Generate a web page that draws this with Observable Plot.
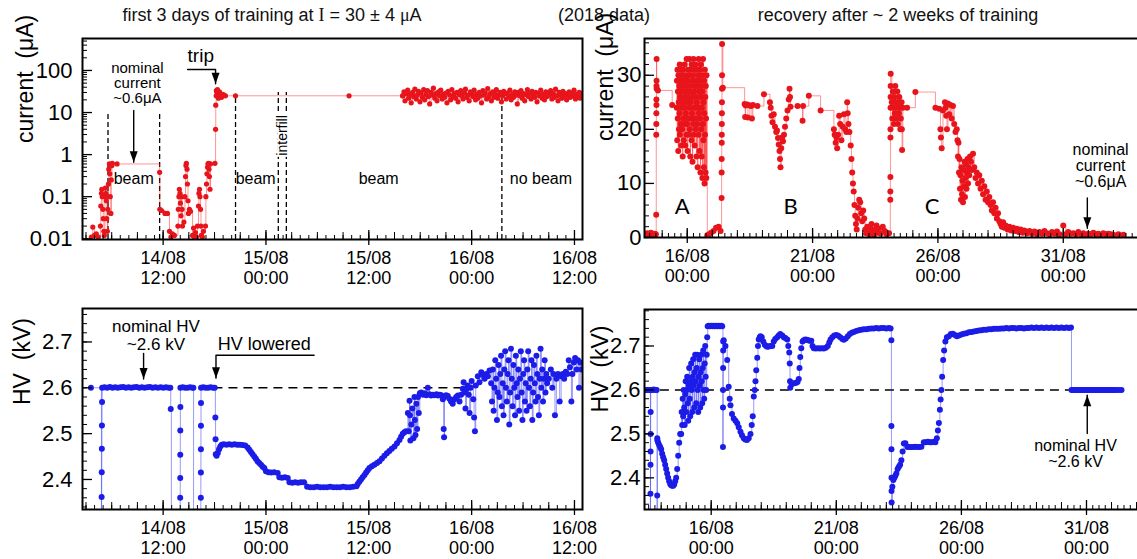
<!DOCTYPE html>
<html><head><meta charset="utf-8">
<script src="https://cdn.jsdelivr.net/npm/d3@7"></script>
<script src="https://cdn.jsdelivr.net/npm/@observablehq/plot@0.6"></script>
<style>
html,body{margin:0;padding:0;background:#fff;overflow:hidden;}
#fig{position:relative;width:1137px;height:559px;overflow:hidden;font-family:"Liberation Sans",Arial,sans-serif;background:#fff;}
.panel{position:absolute;}
.title{position:absolute;font-size:18px;white-space:nowrap;transform:translateX(-50%);color:#111;}
.serif{font-family:"Liberation Serif","DejaVu Serif",serif;}
</style></head><body>
<div id="fig">
<div class="title" style="left:272px;top:5px">first 3 days of training at <span class="serif">I</span> = 30 ± 4 <span class="serif">μ</span>A</div>
<div class="title" style="left:604px;top:5px">(2018 data)</div>
<div class="title" style="left:898px;top:5px">recovery after ~ 2 weeks of training</div>
</div>
<script>
// ---------- DATA (x = day of August 2018, fractional) ----------
// Top-left: current (µA), first 3 days
const tlData = [[14.151,0.011],[14.158,0.019],[14.166,0.012],[14.175,0.013],[14.185,0.011],[14.195,0.02],[14.197,0.06],[14.200,0.12],[14.202,0.15],[14.204,0.1],[14.207,0.05],[14.209,0.03],[14.212,0.015],[14.214,0.012],[14.217,0.1],[14.219,0.16],[14.222,0.12],[14.224,0.08],[14.226,0.03],[14.229,0.015],[14.231,0.05],[14.234,0.2],[14.236,0.45],[14.239,0.6],[14.241,0.35],[14.243,0.1],[14.246,0.04],[14.248,0.25],[14.251,0.55],[14.253,0.62],[14.276,0.6],[14.483,0.38],[14.484,0.05],[14.492,0.047],[14.509,0.04],[14.521,0.04],[14.531,0.015],[14.538,0.011],[14.545,0.013],[14.555,0.012],[14.572,0.02],[14.574,0.05],[14.577,0.1],[14.579,0.15],[14.582,0.12],[14.584,0.07],[14.587,0.035],[14.589,0.1],[14.592,0.05],[14.594,0.02],[14.601,0.025],[14.606,0.1],[14.609,0.3],[14.611,0.55],[14.613,0.62],[14.616,0.45],[14.618,0.2],[14.621,0.08],[14.623,0.04],[14.628,0.05],[14.633,0.045],[14.643,0.012],[14.648,0.018],[14.652,0.011],[14.657,0.014],[14.662,0.011],[14.667,0.02],[14.672,0.06],[14.674,0.12],[14.677,0.15],[14.679,0.1],[14.682,0.05],[14.684,0.02],[14.686,0.012],[14.691,0.011],[14.696,0.015],[14.706,0.02],[14.708,0.1],[14.711,0.2],[14.713,0.35],[14.716,0.5],[14.718,0.6],[14.721,0.62],[14.723,0.45],[14.725,0.3],[14.728,0.15],[14.730,0.6],[14.752,0.62],[14.755,4],[14.756,15],[14.758,25],[14.759,33],[14.762,30],[14.764,35],[14.767,27],[14.769,22],[14.772,28],[14.774,31],[14.779,25],[14.784,23],[14.789,27],[14.796,26],[14.803,25],[14.852,25],[15.404,25],[15.664,25],
[15.665,25],[15.671,31],[15.676,19],[15.683,28],[15.689,34],[15.694,22],[15.701,27],[15.706,17],[15.713,30],[15.718,24],[15.724,36],[15.731,21],[15.736,26],[15.742,32],[15.749,18],[15.754,29],[15.760,23],[15.767,35],[15.772,20],[15.778,27],[15.785,33],[15.790,24],[15.796,16],[15.803,30],[15.808,26],[15.814,38],[15.821,22],[15.826,28],[15.832,19],[15.839,31],[15.844,25],[15.850,34],[15.857,21],[15.862,27],[15.868,23],[15.875,29],[15.880,17],[15.886,32],[15.893,26],[15.898,20],[15.904,35],[15.911,24],[15.916,28],[15.922,22],[15.929,30],[15.934,18],[15.940,27],[15.947,33],[15.952,25],[15.958,21],[15.965,29],[15.970,36],[15.976,23],[15.983,26],[15.988,19],[15.994,31],[16.001,28],[16.006,24],[16.012,34],[16.019,20],[16.024,27],[16.030,22],[16.037,30],[16.042,25],[16.048,17],[16.055,33],[16.060,26],[16.066,29],[16.073,21],[16.078,37],[16.084,24],[16.091,28],[16.096,19],[16.102,31],[16.109,23],[16.114,27],[16.120,35],[16.127,22],[16.132,26],[16.138,30],[16.145,18],[16.150,25],[16.156,32],[16.163,28],[16.168,21],[16.174,29],[16.181,24],[16.186,34],[16.192,20],[16.199,27],[16.204,23],[16.210,31],[16.217,26],[16.222,16],[16.228,30],[16.235,25],[16.240,33],[16.246,22],[16.253,28],[16.258,19],[16.264,27],[16.271,35],[16.276,24],[16.282,29],[16.289,21],[16.294,32],[16.300,26],[16.307,23],[16.312,30],[16.318,18],[16.325,28],[16.330,25],[16.336,34],[16.343,22],[16.348,27],[16.354,20],[16.361,31],[16.366,24],[16.372,29],[16.379,26],[16.384,33],[16.390,21],[16.397,28],[16.402,23],[16.408,36],[16.415,25],[16.420,19],[16.426,30],[16.433,27],[16.438,22],[16.444,32],[16.451,24],[16.456,28],[16.462,20],[16.469,26],[16.474,31],[16.480,23],[16.487,29],[16.492,25],[16.498,34],[16.505,21],[16.510,27],[16.516,24],[16.523,30],[16.528,22],[16.534,28]];

// Top-right: current (µA), recovery — before cloud A
const trPre = [[14.33,0.5],[14.40,0.8],[14.47,0.4],[14.55,0.9],[14.62,0.5],[14.70,0.7],[14.75,0.6],[14.762,4.2],[14.764,19],[14.766,21],[14.768,23],[14.770,25.5],[14.772,24.5],[14.774,28],[14.776,29],[14.778,33],[14.780,27.5],[14.83,27.2],[15.40,24.5]];
// cloud "A" sample times and currents
const trCloudDays = [15.582,15.588,15.601,15.610,15.621,15.629,15.641,15.647,15.660,15.669,15.680,15.688,15.700,15.706,15.719,15.728,15.739,15.747,15.759,15.765,15.778,15.787,15.798,15.806,15.818,15.824,15.837,15.846,15.857,15.865,15.877,15.883,15.896,15.905,15.916,15.924,15.936,15.942,15.955,15.964,15.975,15.983,15.995,16.001,16.014,16.023,16.034,16.042,16.054,16.060,16.073,16.082,16.093,16.101,16.113,16.119,16.132,16.141,16.152,16.160,16.172,16.178,16.191,16.200,16.211,16.219,16.231,16.237,16.250,16.259,16.270,16.278,16.290,16.296,16.309,16.318,16.329,16.337,16.349,16.355,16.368,16.377,16.388,16.396,16.408,16.414,16.427,16.436,16.447,16.455,16.467,16.473,16.486,16.495,16.506,16.514,16.526,16.532,16.545,16.554,16.565,16.573,16.585,16.591,16.604,16.613,16.624,16.632,16.644,16.650,16.663,16.672,16.683,16.691,16.703,16.709,16.722,16.731,16.742,16.750,16.762,16.768];
const trCloudCur = [24,29,18,31,22,27,16,30,25,20,28,23,32,19,26,29,21,31,17,27,24,30,20,28,15,25,31,22,27,18,29,24,32,21,26,17,30,23,28,19,33,25,21,29,16,27,31,22,26,19,30,24,33,20,28,15,25,31,22,27,18,32,23,29,14,26,30,21,33,19,27,24,31,17,28,22,32,20,26,29,15,25,31,21,28,13,24,30,19,33,23,27,16,29,22,31,12,26,32,20,28,15,24,30,11,27,21,33,18,25,13,29,23,10,31,19,26,12,28,22,11,30];
// after cloud A
const trPost = [[16.80,0.4],[16.87,0.6],[16.95,0.9],[17.05,1.2],[17.15,1.8],[17.25,2.0],[17.33,1.2],[17.370,7.3],[17.372,12],[17.374,14.5],[17.376,17.5],[17.378,19],[17.380,21],[17.382,23],[17.384,25],[17.386,27.5],[17.388,30],[17.390,35.8],[17.42,27.7],[18.29,24.7],[18.31,22.3],[18.33,24.4],[18.40,24.6],[18.42,22.2],[18.50,24.4],[18.55,24.3],[18.58,22.0],[18.62,24.5],[18.80,24.3],[19.06,26.5],[19.30,25.0],[19.33,24.0],[19.36,22.5],[19.40,21.3],[19.45,22.8],[19.50,20.5],[19.55,19.5],[19.58,19.8],[19.62,18.4],[19.65,17.2],[19.68,16.0],[19.70,14.5],[19.72,13.0],[19.75,16.5],[19.78,18.5],[19.82,17.8],[19.86,19.0],[19.90,20.5],[19.95,22.0],[20.00,23.5],[20.05,25.5],[20.08,27.5],[20.10,26.0],[20.12,24.2],[20.40,24.3],[20.60,21.6],[20.62,24.3],[20.85,26.2],[21.32,23.5],[21.85,20.0],[21.88,19.0],[21.92,17.5],[21.95,18.5],[21.98,16.5],[22.02,19.0],[22.06,22.5],[22.10,21.0],[22.15,18.0],[22.20,20.5],[22.25,22.8],[22.30,20.0],[22.35,19.5],[22.38,25.0],[22.40,23.0],[22.43,21.0],[22.47,19.5],[22.52,17.0],[22.55,14.5],[22.58,12.0],[22.61,10.0],[22.64,8.5],[22.67,6.0],[22.70,4.0],[22.73,2.5],[22.76,1.5],[22.79,3.5],[22.82,5.5],[22.86,7.0],[22.90,6.5],[22.94,4.5],[22.98,3.0],[23.02,5.0],[23.06,3.5],[23.10,1.5],[23.14,0.8],[23.18,2.0],[23.22,1.2],[23.26,0.6],[23.30,1.8],[23.35,2.5],[23.40,1.0],[23.45,0.5],[23.50,1.5],[23.55,2.2],[23.60,0.9],[23.65,1.6],[23.72,0.7],[23.80,2.0],[23.88,1.2],[23.95,0.6],[24.05,0.8],[24.100,7.0],[24.102,8.5],[24.104,11.2],[24.106,18.5],[24.108,20],[24.110,24],[24.112,26],[24.114,28],[24.116,30.3],[24.16,25],[24.18,22],[24.20,27],[24.22,24],[24.24,21],[24.26,26],[24.28,23],[24.30,28],[24.32,25],[24.34,22],[24.36,24],[24.38,27],[24.40,21],[24.42,25],[24.44,23],[24.46,26],[24.48,24],[24.50,20],[24.52,22],[24.55,25],[24.56,20],[24.57,16.2],[24.60,24.0],[24.77,24.0],[25.10,26.9],[25.90,24.0],[26.05,23.8],[26.10,20.0],[26.12,18.5],[26.15,16.5],[26.20,23.5],[26.28,25.0],[26.30,24.0],[26.33,22.5],[26.36,20.0],[26.40,24.8],[26.45,22.8],[26.50,24.5],[26.55,22.0],[26.60,24.3],[26.65,21.0],[26.70,19.5],[26.75,20.0],[26.78,18.0],[26.80,15.0],[26.82,17.5],[26.84,12.0],[26.86,14.5],[26.88,9.0],[26.90,11.5],[26.92,7.0],[26.94,13.0],[26.96,8.0],[26.98,10.5],[27.00,6.5],[27.02,12.5],[27.04,9.5],[27.06,14.0],[27.08,7.5],[27.10,11.0],[27.12,13.5],[27.14,9.0],[27.16,12.0],[27.18,14.5],[27.20,10.0],[27.22,13.0],[27.25,11.5],[27.28,15.0],[27.32,14.0],[27.36,12.5],[27.40,15.5],[27.45,13.0],[27.50,11.0],[27.55,12.0],[27.60,10.0],[27.65,11.5],[27.70,9.0],[27.75,10.5],[27.80,8.0],[27.85,9.5],[27.90,7.0],[27.95,8.5],[28.00,6.5],[28.05,7.5],[28.10,6.0],[28.15,5.0],[28.20,6.5],[28.25,4.5],[28.30,5.5],[28.35,3.5],[28.40,4.5],[28.45,3.0],[28.50,2.5],[28.55,2.0],[28.60,2.8],[28.65,1.8],[28.70,2.2],[28.78,1.5],[28.85,2.0],[28.92,1.3],[29.00,1.8],[29.08,1.2],[29.15,1.6],[29.22,1.0],[29.30,1.5],[29.38,0.9],[29.45,1.3],[29.55,0.8],[29.65,1.2],[29.75,0.7],[29.85,1.1],[29.95,0.6],[30.05,1.0],[30.15,0.7],[30.25,1.2],[30.35,0.8],[30.45,0.6],[30.55,1.0],[30.65,0.7],[30.75,1.1],[30.85,0.6],[31.00,2.2],[31.10,0.6],[31.20,1.0],[31.30,0.7],[31.40,0.8],[31.50,0.6],[31.60,1.0],[31.70,0.6],[31.80,0.8],[31.90,0.5],[32.00,0.7],[32.10,0.6],[32.20,0.9],[32.30,0.6],[32.40,0.7],[32.50,0.5],[32.60,0.8],[32.70,0.6],[32.80,0.7],[32.90,0.6],[33.00,0.5],[33.20,0.6],[33.40,0.5]];

// Bottom-left: HV (kV), first 3 days (2.30 = tripped, off scale)
const blData = [[14.149,2.600],[14.200,2.30],[14.201,2.362],[14.2015,2.416],[14.202,2.467],[14.2025,2.518],[14.203,2.569],[14.2035,2.600],[14.215,2.601],[14.228,2.600],[14.241,2.602],[14.254,2.600],[14.267,2.601],[14.280,2.600],[14.293,2.601],[14.306,2.602],[14.319,2.600],[14.332,2.601],[14.345,2.600],[14.358,2.601],[14.371,2.602],[14.384,2.600],[14.397,2.601],[14.410,2.600],[14.423,2.601],[14.436,2.602],[14.449,2.600],[14.462,2.601],[14.475,2.600],[14.488,2.601],[14.501,2.600],[14.514,2.601],[14.527,2.600],[14.535,2.600],[14.537,2.554],[14.540,2.30],[14.583,2.36],[14.5832,2.403],[14.5834,2.454],[14.5836,2.507],[14.5838,2.558],[14.584,2.600],[14.595,2.601],[14.607,2.600],[14.619,2.600],[14.631,2.601],[14.643,2.600],[14.647,2.600],[14.648,2.30],[14.6833,2.36],[14.6835,2.415],[14.6837,2.466],[14.6839,2.517],[14.6841,2.567],[14.6843,2.600],[14.695,2.601],[14.707,2.600],[14.719,2.600],[14.731,2.601],[14.743,2.600],[14.751,2.600],[14.754,2.535],[14.755,2.488],[14.756,2.455],[14.760,2.452],[14.766,2.458],[14.772,2.466],[14.778,2.472],[14.785,2.476],[14.795,2.477],[14.808,2.476],[14.821,2.477],[14.834,2.476],[14.847,2.477],[14.860,2.476],[14.873,2.476],[14.886,2.475],[14.899,2.474],[14.911,2.470],[14.919,2.465],[14.927,2.460],[14.935,2.455],[14.943,2.450],[14.951,2.445],[14.959,2.440],[14.967,2.436],[14.976,2.432],[14.984,2.428],[14.992,2.425],[15.000,2.418],[15.012,2.416],[15.025,2.415],[15.040,2.416],[15.057,2.414],[15.065,2.405],[15.078,2.404],[15.092,2.405],[15.106,2.403],[15.114,2.394],[15.128,2.393],[15.142,2.394],[15.156,2.393],[15.170,2.394],[15.185,2.394],[15.200,2.384],[15.216,2.383],[15.232,2.383],[15.248,2.384],[15.264,2.383],[15.280,2.383],[15.296,2.383],[15.312,2.384],[15.328,2.383],[15.344,2.383],[15.360,2.383],[15.376,2.384],[15.392,2.383],[15.408,2.383],[15.424,2.384],[15.440,2.385],[15.446,2.390],[15.454,2.395],[15.462,2.400],[15.470,2.405],[15.479,2.410],[15.487,2.415],[15.495,2.420],[15.503,2.425],[15.515,2.429],[15.527,2.432],[15.540,2.436],[15.552,2.440],[15.564,2.446],[15.576,2.452],[15.588,2.457],[15.600,2.462],[15.612,2.467],[15.625,2.472],[15.637,2.479],[15.649,2.486],[15.657,2.493],[15.665,2.500],[15.673,2.503],[15.681,2.505],
[15.690,2.545],[15.694,2.505],[15.698,2.572],[15.700,2.54],[15.702,2.485],[15.707,2.52],[15.712,2.555],[15.717,2.49],[15.722,2.58],[15.724,2.53],[15.727,2.497],[15.731,2.565],[15.735,2.51],[15.739,2.58],[15.743,2.545],[15.748,2.588],[15.755,2.59],[15.764,2.585],[15.772,2.588],[15.780,2.584],[15.787,2.600],[15.795,2.586],[15.803,2.583],[15.812,2.585],[15.820,2.584],[15.829,2.586],[15.837,2.583],[15.845,2.585],[15.853,2.584],[15.860,2.575],[15.864,2.510],[15.866,2.492],[15.868,2.58],[15.876,2.584],[15.884,2.582],[15.892,2.576],[15.900,2.570],[15.908,2.565],[15.916,2.575],[15.925,2.580],[15.933,2.583],[15.941,2.57],[15.949,2.585],[15.957,2.598],[15.961,2.612],[15.965,2.590],[15.970,2.555],[15.975,2.597],[15.981,2.605],[15.986,2.585],[15.990,2.545],[15.995,2.600],[16.000,2.615],[16.008,2.575],[16.012,2.535],[16.016,2.505],[16.020,2.605],[16.030,2.625],[16.038,2.612],[16.047,2.634],[16.055,2.628],[16.063,2.62],[16.071,2.630],[16.079,2.625],[16.087,2.638],
[16.095,2.61],[16.099,2.57],[16.103,2.64],[16.107,2.55],[16.111,2.60],[16.115,2.66],[16.119,2.62],[16.123,2.53],[16.127,2.59],[16.131,2.65],[16.135,2.58],[16.139,2.63],[16.143,2.67],[16.147,2.56],[16.151,2.61],[16.155,2.54],[16.159,2.64],[16.163,2.68],[16.167,2.60],[16.171,2.57],[16.175,2.63],[16.179,2.66],[16.183,2.52],[16.187,2.59],[16.191,2.685],[16.195,2.62],[16.199,2.56],[16.203,2.65],[16.207,2.60],[16.211,2.54],[16.215,2.67],[16.219,2.61],[16.223,2.58],[16.227,2.64],[16.231,2.55],[16.235,2.62],[16.239,2.68],[16.243,2.59],[16.247,2.53],[16.251,2.63],[16.255,2.66],[16.259,2.57],[16.263,2.61],[16.267,2.55],[16.271,2.64],[16.275,2.68],[16.279,2.60],[16.283,2.56],[16.287,2.62],[16.291,2.66],[16.295,2.53],[16.299,2.59],[16.303,2.65],[16.307,2.61],[16.311,2.57],[16.315,2.67],[16.319,2.63],[16.323,2.58],[16.327,2.54],[16.331,2.62],[16.335,2.685],[16.339,2.60],[16.343,2.64],[16.347,2.57],[16.351,2.62],[16.355,2.66],[16.359,2.59],[16.363,2.63],[16.367,2.61],
[16.375,2.62],[16.385,2.64],[16.392,2.60],[16.398,2.63],[16.405,2.54],[16.412,2.62],[16.420,2.63],[16.428,2.57],[16.435,2.625],[16.443,2.63],[16.450,2.62],[16.458,2.635],[16.465,2.63],[16.472,2.66],[16.478,2.645],[16.485,2.57],[16.490,2.63],[16.497,2.655],[16.503,2.665],[16.510,2.64],[16.517,2.66],[16.522,2.60],[16.528,2.655],[16.534,2.64]];

// Bottom-right: HV (kV), recovery
const brData = [[13.374,2.600],[13.42,2.600],[13.47,2.600],[13.50,2.600],[13.54,2.600],[13.570,2.30],[13.572,2.364],[13.574,2.43],[13.576,2.46],[13.578,2.50],[13.580,2.55],[13.582,2.600],[13.64,2.600],[13.70,2.601],[13.76,2.600],[13.82,2.600],[13.840,2.30],[13.842,2.36],[13.844,2.49],[13.85,2.485],[13.88,2.48],[13.92,2.475],[13.96,2.47],[14.00,2.465],[14.04,2.455],[14.08,2.447],[14.12,2.44],[14.16,2.43],[14.20,2.42],[14.24,2.41],[14.28,2.40],[14.32,2.392],[14.36,2.386],[14.40,2.383],[14.44,2.382],[14.48,2.382],[14.52,2.385],[14.56,2.392],[14.60,2.40],[14.64,2.42],[14.68,2.45],[14.72,2.48],[14.76,2.50],
[14.80,2.50],[14.82,2.55],[14.84,2.52],[14.86,2.58],[14.88,2.54],[14.90,2.60],[14.92,2.56],[14.94,2.52],[14.96,2.59],[14.98,2.62],[15.00,2.55],[15.02,2.60],[15.04,2.63],[15.06,2.57],[15.08,2.53],[15.10,2.61],[15.12,2.65],[15.14,2.58],[15.16,2.54],[15.18,2.62],[15.20,2.66],[15.22,2.60],[15.24,2.55],[15.26,2.63],[15.28,2.67],[15.30,2.61],[15.32,2.56],[15.34,2.64],[15.36,2.68],[15.38,2.62],[15.40,2.57],[15.42,2.65],[15.44,2.68],[15.46,2.60],[15.48,2.55],[15.50,2.63],[15.52,2.67],[15.54,2.61],[15.56,2.56],[15.58,2.64],[15.60,2.68],[15.62,2.62],[15.64,2.57],[15.66,2.65],[15.68,2.69],[15.70,2.60],[15.72,2.58],[15.74,2.66],[15.76,2.70],[15.78,2.63],[15.80,2.60],[15.82,2.68],[15.84,2.72],
[15.86,2.745],[15.90,2.746],[15.95,2.745],[16.00,2.746],[16.05,2.745],[16.10,2.746],[16.15,2.745],[16.20,2.746],[16.25,2.745],[16.30,2.746],[16.35,2.745],[16.40,2.746],[16.44,2.745],[16.470,2.47],[16.472,2.56],[16.474,2.60],[16.476,2.65],[16.478,2.69],[16.480,2.71],[16.50,2.713],[16.57,2.70],[16.64,2.668],[16.70,2.607],[16.74,2.58],[16.77,2.565],[16.83,2.545],[16.90,2.535],[16.97,2.53],[17.04,2.524],[17.10,2.515],[17.17,2.505],[17.23,2.497],[17.30,2.49],[17.36,2.487],[17.43,2.486],[17.50,2.49],[17.57,2.50],[17.62,2.52],[17.66,2.54],[17.70,2.585],[17.74,2.60],[17.77,2.62],[17.80,2.645],[17.84,2.673],[17.87,2.70],[17.90,2.715],[17.94,2.72],[17.97,2.722],[18.02,2.72],[18.08,2.71],[18.14,2.703],[18.20,2.70],[18.24,2.698],[18.30,2.699],[18.36,2.70],[18.44,2.70],[18.50,2.71],[18.56,2.716],[18.64,2.72],[18.70,2.724],[18.76,2.727],[18.84,2.724],[18.90,2.72],[18.96,2.718],[19.04,2.715],[19.08,2.70],[19.12,2.685],[19.14,2.66],[19.15,2.62],[19.16,2.605],[19.22,2.613],[19.30,2.615],[19.38,2.616],[19.45,2.618],[19.50,2.625],[19.53,2.65],[19.56,2.675],[19.60,2.695],[19.65,2.71],[19.70,2.713],[19.76,2.715],[19.82,2.714],[19.88,2.713],[19.94,2.712],[20.00,2.712],[20.05,2.70],[20.10,2.695],[20.18,2.694],[20.26,2.695],[20.34,2.694],[20.42,2.695],[20.50,2.694],[20.58,2.696],[20.66,2.70],[20.72,2.708],[20.77,2.715],[20.84,2.72],[20.92,2.724],[21.00,2.725],[21.08,2.723],[21.16,2.72],[21.24,2.716],[21.30,2.714],[21.38,2.717],[21.46,2.722],[21.54,2.727],[21.62,2.73],[21.70,2.732],[21.80,2.734],[21.90,2.736],[22.00,2.737],[22.10,2.738],[22.20,2.738],[22.30,2.739],[22.40,2.74],[22.50,2.74],[22.60,2.741],[22.70,2.74],[22.80,2.741],[22.90,2.741],[23.00,2.74],[23.10,2.741],[23.17,2.74],[23.20,2.713],[23.202,2.518],[23.204,2.465],[23.206,2.40],[23.208,2.37],[23.21,2.344],[23.24,2.38],[23.28,2.395],[23.32,2.40],[23.36,2.405],[23.40,2.41],[23.45,2.42],[23.50,2.425],[23.55,2.43],[23.60,2.44],[23.65,2.46],[23.70,2.478],[23.76,2.479],[23.84,2.47],[23.92,2.47],[24.00,2.47],[24.08,2.47],[24.16,2.471],[24.24,2.47],[24.32,2.47],[24.40,2.471],[24.50,2.481],[24.58,2.481],[24.66,2.482],[24.74,2.481],[24.82,2.481],[24.90,2.482],[24.96,2.481],[25.02,2.49],[25.06,2.508],[25.10,2.525],[25.14,2.555],[25.17,2.578],[25.20,2.600],[25.23,2.63],[25.27,2.668],[25.31,2.69],[25.36,2.71],[25.42,2.72],[25.50,2.722],[25.58,2.727],[25.66,2.728],[25.74,2.725],[25.82,2.722],[25.90,2.724],[26.00,2.726],[26.10,2.728],[26.20,2.729],[26.30,2.731],[26.40,2.732],[26.50,2.733],[26.60,2.734],[26.70,2.735],[26.80,2.736],[26.90,2.737],[27.00,2.737],[27.10,2.738],[27.20,2.738],[27.30,2.739],[27.40,2.739],[27.50,2.739],[27.60,2.74],[27.70,2.74],[27.80,2.741],[27.90,2.74],[28.00,2.741],[28.10,2.741],[28.20,2.74],[28.30,2.741],[28.40,2.741],[28.50,2.74],[28.60,2.741],[28.70,2.741],[28.80,2.742],[28.90,2.741],[29.00,2.742],[29.10,2.741],[29.20,2.742],[29.30,2.741],[29.40,2.742],[29.50,2.741],[29.60,2.742],[29.70,2.741],[29.80,2.742],[29.90,2.741],[30.00,2.742],[30.10,2.741],[30.20,2.742],[30.30,2.741],[30.38,2.742],[30.40,2.600],[30.46,2.600],[30.52,2.600],[30.58,2.600],[30.64,2.600],[30.70,2.600],[30.76,2.600],[30.82,2.600],[30.88,2.600],[30.94,2.600],[31.00,2.600],[31.06,2.600],[31.12,2.600],[31.18,2.600],[31.24,2.600],[31.30,2.600],[31.36,2.600],[31.42,2.600],[31.48,2.600],[31.54,2.600],[31.60,2.600],[31.66,2.600],[31.72,2.600],[31.78,2.600],[31.84,2.600],[31.90,2.600],[31.96,2.600],[32.02,2.600],[32.08,2.600],[32.14,2.600],[32.20,2.600],[32.30,2.600],[32.40,2.600]];

// ---------- TICKS & LABELS ----------
const tlXTicks = [14.5, 15, 15.5, 16, 16.5];
const tlXLabels = ["14/08\n12:00", "15/08\n00:00", "15/08\n12:00", "16/08\n00:00", "16/08\n12:00"];
const trXTicks = [16, 21, 26, 31];
const trXLabels = ["16/08\n00:00", "21/08\n00:00", "26/08\n00:00", "31/08\n00:00"];
const logTicks = [0.01, 0.1, 1, 10, 100];
const logLabels = ["0.01", "0.1", "1", "10", "100"];
const curTicks = [0, 10, 20, 30];
const curLabels = ["0", "10", "20", "30"];
const hvTicks = [2.4, 2.5, 2.6, 2.7];
const hvLabels = ["2.4", "2.5", "2.6", "2.7"];

// ---------- ANNOTATIONS ----------
const tlDashes = [[14.232, 10], [14.483, 10], [14.852, 24], [15.060, 30], [15.099, 30], [16.147, 22]];
const tlNotes = [{x: 14.357, y: 0.26, t: "beam"}, {x: 14.95, y: 0.26, t: "beam"}, {x: 15.548, y: 0.26, t: "beam"}, {x: 16.337, y: 0.26, t: "no beam"}];
const tlNominal = {x: 14.375, y: 49, t: "nominal\ncurrent\n~0.6μA"};
const tlTrip = {x: 14.683, y: 227, t: "trip"};
const tlInterfill = {x: 15.082, y: 2.86, t: "interfill"};
const tlArrows = [[[14.357, 11.2], [14.357, 0.66]], [[14.619, 105], [14.755, 105], [14.755, 48]]];
const tlTips = [[14.357, 0.66], [14.755, 48]];
const trLetters = [{x: 15.80, y: 5.66, t: "A"}, {x: 20.12, y: 5.66, t: "B"}, {x: 25.77, y: 5.66, t: "C"}];
const trNominal = {x: 32.49, y: 13.2, t: "nominal\ncurrent\n~0.6μA"};
const trArrows = [[[31.96, 7.3], [31.96, 1.7]]];
const trTips = [[31.96, 1.7]];
const blNominal = {x: 14.465, y: 2.714, t: "nominal HV\n~2.6 kV"};
const blLowered = {x: 14.765, y: 2.695, t: "HV lowered"};
const blArrows = [[[14.405, 2.675], [14.405, 2.619]], [[15.234, 2.671], [14.757, 2.671], [14.757, 2.621]]];
const blTips = [[14.405, 2.619], [14.757, 2.621]];
const blDash = [{y: 2.6, x1: 14.747, x2: 15.949}];
const brNominal = {x: 30.56, y: 2.455, t: "nominal HV\n~2.6 kV"};
const brArrows = [[[31.03, 2.501], [31.03, 2.588]]];
const brTips = [[31.03, 2.588]];
const brDash = [{y: 2.6, x1: 13.37, x2: 30.38}];

// ---------- HELPERS ----------
const trData = [...trPre, ...trCloudDays.map((d, i) => [d, trCloudCur[i]]), ...trPost];
const FONT = '"Liberation Sans", Arial, sans-serif';
const triDown = {draw(c) { c.moveTo(0, 0); c.lineTo(-4, -11); c.lineTo(4, -11); c.closePath(); }};
const triUp = {draw(c) { c.moveTo(0, 0); c.lineTo(-4, 11); c.lineTo(4, 11); c.closePath(); }};
function steps(a, b, s) { const o = []; const n = Math.round((b - a) / s); for (let i = 0; i <= n; i++) o.push(+(a + i * s).toFixed(6)); return o; }
function inDom(arr, dom) { return arr.filter(v => v >= Math.min(...dom) && v <= Math.max(...dom)); }
function logMinor(dom) { const o = []; for (let e = -3; e <= 3; e++) for (let k = 2; k <= 9; k++) o.push(k * Math.pow(10, e)); return inDom(o, dom); }
function arrowMarks(lines, tips, sym) {
  const pts = lines.flatMap((l, k) => l.map(p => ({x: p[0], y: p[1], k})));
  return [
    Plot.line(pts, {x: "x", y: "y", z: "k", stroke: "black", strokeWidth: 1.4}),
    Plot.dot(tips, {x: d => d[0], y: d => d[1], symbol: sym, r: 4, fill: "black", stroke: "none"})
  ];
}

function panel(cfg) {
  const fw = cfg.width - cfg.ml - cfg.mr, fh = cfg.height - cfg.mt - cfg.mb;
  const X = d => d[0], Y = d => d[1];
  const marks = [
    ...(cfg.under || []),
    Plot.line(cfg.data, {x: X, y: Y, curve: "step-after", stroke: cfg.lineColor, strokeWidth: 0.8, strokeOpacity: 0.6, clip: true}),
    Plot.dot(cfg.data, {x: X, y: Y, r: cfg.r, fill: cfg.color, stroke: "none", clip: true}),
    Plot.ruleX(inDom(cfg.xMinor, cfg.xDomain), {x: d => d, insetTop: fh - 4, stroke: "black", strokeWidth: 1}),
    Plot.ruleX(inDom(cfg.xMid, cfg.xDomain), {x: d => d, insetTop: fh - 7, stroke: "black", strokeWidth: 1}),
    Plot.ruleX(cfg.xTicks, {x: d => d, insetTop: fh - 9, insetBottom: -6, stroke: "black", strokeWidth: 1.3}),
    Plot.ruleY(cfg.yMinor, {y: d => d, insetRight: fw - 5, stroke: "black", strokeWidth: 1}),
    Plot.ruleY(cfg.yTicks, {y: d => d, insetRight: fw - 10, stroke: "black", strokeWidth: 1.3}),
    Plot.text(cfg.xTicks, {x: d => d, text: (d, i) => cfg.xLabels[i], frameAnchor: "bottom", lineAnchor: "top", dy: 10, fontSize: 18, lineHeight: 1.12}),
    Plot.text(cfg.yTicks, {y: d => d, text: (d, i) => cfg.yLabels[i], frameAnchor: "left", textAnchor: "end", dx: cfg.ydx, fontSize: 22}),
    Plot.text([cfg.yTitle], {text: d => d, frameAnchor: "left", rotate: -90, dx: cfg.tdx, dy: cfg.tdy || 0, fontSize: 23}),
    Plot.frame({stroke: "black", strokeWidth: 2}),
    ...(cfg.over || [])
  ];
  const svg = Plot.plot({
    width: cfg.width, height: cfg.height,
    marginLeft: cfg.ml, marginRight: cfg.mr, marginTop: cfg.mt, marginBottom: cfg.mb,
    x: {type: "linear", domain: cfg.xDomain, axis: null},
    y: {type: cfg.yType, domain: cfg.yDomain, axis: null},
    style: {fontFamily: FONT, fontSize: "18px", color: "black", background: "transparent", overflow: "visible", maxWidth: "none"},
    marks
  });
  const div = document.createElement("div");
  div.className = "panel";
  div.style.left = cfg.left + "px"; div.style.top = cfg.top + "px";
  div.style.width = cfg.width + "px"; div.style.height = cfg.height + "px";
  div.appendChild(svg);
  document.getElementById("fig").appendChild(div);
}

const RED = "#e8141c", RED_L = "#ff2020", BLUE = "#1c1ce8", BLUE_L = "#2a2af5";
const leftDays = [14.108, 16.539];

// Top-left
panel({
  left: 0, top: 30, width: 590, height: 270, ml: 82, mr: 8, mt: 8, mb: 61,
  data: tlData, color: RED, lineColor: RED_L, r: 2.6,
  xDomain: leftDays, yType: "log", yDomain: [0.0096, 575],
  xTicks: tlXTicks, xLabels: tlXLabels, xMinor: steps(14, 17, 1 / 24), xMid: steps(14, 17, 0.125),
  yTicks: logTicks, yLabels: logLabels, yMinor: logMinor([0.0096, 575]), ydx: -10,
  yTitle: "current  (μA)", tdx: -57, tdy: 4,
  under: [Plot.ruleX(tlDashes, {x: d => d[0], y1: 0.0096, y2: d => d[1], stroke: "black", strokeWidth: 1.3, strokeDasharray: "5,3"})],
  over: [
    Plot.text(tlNotes, {x: "x", y: "y", text: "t", fontSize: 16}),
    Plot.text([tlNominal], {x: "x", y: "y", text: "t", fontSize: 15, lineHeight: 1.0}),
    Plot.text([tlTrip], {x: "x", y: "y", text: "t", fontSize: 19}),
    Plot.text([tlInterfill], {x: "x", y: "y", text: "t", fontSize: 14, rotate: -90, stroke: "white", strokeWidth: 4, fill: "black"}),
    ...arrowMarks(tlArrows, tlTips, triDown)
  ]
});

// Top-right
panel({
  left: 590, top: 30, width: 570, height: 270, ml: 54, mr: 10, mt: 8, mb: 63,
  data: trData, color: RED, lineColor: RED_L, r: 3,
  xDomain: [14.295, 34.48], yType: "linear", yDomain: [0, 36.8],
  xTicks: trXTicks, xLabels: trXLabels, xMinor: steps(14, 35, 0.25), xMid: steps(14, 35, 1),
  yTicks: curTicks, yLabels: curLabels, yMinor: steps(0, 36, 2), ydx: -3,
  yTitle: "current  (μA)", tdx: -39, tdy: 3,
  over: [
    Plot.text(trLetters, {x: "x", y: "y", text: "t", fontSize: 22, fontFamily: "Lato, 'Open Sans', sans-serif"}),
    Plot.text([trNominal], {x: "x", y: "y", text: "t", fontSize: 16, lineHeight: 1.0}),
    ...arrowMarks(trArrows, trTips, triDown)
  ]
});

// Bottom-left
panel({
  left: 0, top: 300, width: 590, height: 259, ml: 82, mr: 8, mt: 8, mb: 50,
  data: blData, color: BLUE, lineColor: BLUE_L, r: 3,
  xDomain: leftDays, yType: "linear", yDomain: [2.3345, 2.773],
  xTicks: tlXTicks, xLabels: tlXLabels, xMinor: steps(14, 17, 1 / 24), xMid: steps(14, 17, 0.125),
  yTicks: hvTicks, yLabels: hvLabels, yMinor: steps(2.34, 2.76, 0.02), ydx: -10,
  yTitle: "HV  (kV)", tdx: -60, tdy: -4,
  under: [Plot.ruleY(blDash, {y: "y", x1: "x1", x2: "x2", stroke: "black", strokeWidth: 1.5, strokeDasharray: "9,6"})],
  over: [
    Plot.text([blNominal], {x: "x", y: "y", text: "t", fontSize: 17, lineHeight: 1.05}),
    Plot.text([blLowered], {x: "x", y: "y", text: "t", fontSize: 18, textAnchor: "start"}),
    ...arrowMarks(blArrows, blTips, triDown)
  ]
});

// Bottom-right
panel({
  left: 590, top: 300, width: 570, height: 259, ml: 54, mr: 10, mt: 9, mb: 50,
  data: brData, color: BLUE, lineColor: BLUE_L, r: 3,
  xDomain: [13.334, 33.558], yType: "linear", yDomain: [2.328, 2.783],
  xTicks: trXTicks, xLabels: trXLabels, xMinor: steps(13, 34, 0.25), xMid: steps(13, 34, 1),
  yTicks: hvTicks, yLabels: hvLabels, yMinor: steps(2.34, 2.78, 0.02), ydx: -4,
  yTitle: "HV  (kV)", tdx: -44, tdy: 3,
  under: [Plot.ruleY(brDash, {y: "y", x1: "x1", x2: "x2", stroke: "black", strokeWidth: 1.5, strokeDasharray: "9,6"})],
  over: [
    Plot.text([brNominal], {x: "x", y: "y", text: "t", fontSize: 16, lineHeight: 1.05}),
    ...arrowMarks(brArrows, brTips, triUp)
  ]
});
</script>
</body></html>
